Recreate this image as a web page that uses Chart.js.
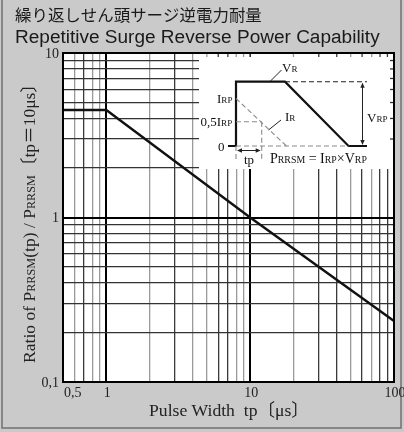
<!DOCTYPE html>
<html>
<head>
<meta charset="utf-8">
<script src="https://cdn.jsdelivr.net/npm/chart.js@4.4.1/dist/chart.umd.min.js"></script>
<style>
  html, body { margin: 0; padding: 0; background: #c9c9c9; }
  #wrap { width: 404px; height: 432px; position: relative; }
</style>
</head>
<body>
<div id="wrap"><canvas id="myChart"></canvas></div>
<script>
// data
const pulseWidth = [0.5, 1, 10, 100];
const powerRatio = [4.5, 4.5, 1, 0.235];

const xGridValues = [0.5, 0.6, 0.7, 0.8, 0.9, 1, 2, 3, 4, 5, 6, 7, 8, 9, 10,
                     20, 30, 40, 50, 60, 70, 80, 90, 100];
const yGridValues = [0.1, 0.2, 0.3, 0.4, 0.5, 0.6, 0.7, 0.8, 0.9, 1,
                     2, 3, 4, 5, 6, 7, 8, 9, 10];
const xTickValues = [0.5, 1, 10, 100];
const xTickLabels = ['0,5', '1', '10', '100'];
const yTickValues = [0.1, 1, 10];
const yTickLabels = ['0,1', '1', '10'];

const titleJa = '繰り返しせん頭サージ逆電力耐量';
const titleEn = 'Repetitive Surge Reverse Power Capability';

const SERIF = '"Liberation Serif", "Noto Sans CJK JP", serif';
const SANS = '"Liberation Sans", Arial, sans-serif';

// some minor verticals look darker in the scan
const darkVerticals = [0.7, 3, 6, 7, 30, 40, 60, 80, 90];
function vColor(v) {
  if (v === 1 || v === 10) return '#000';
  return darkVerticals.includes(v) ? '#3a3a3a' : '#9a9a9a';
}
function vWidth(v) { return (v === 1 || v === 10) ? 2 : 1.3; }
function hColor(v) { return v === 1 ? '#000' : '#333'; }
function hWidth(v) { return v === 1 ? 2 : 1.3; }

// text with small-caps style subscripts: parts = [[text, isSmall], ...]
function richWidth(ctx, parts, size) {
  let w = 0;
  parts.forEach(p => {
    ctx.font = (p[1] ? size * 0.7 : size) + 'px ' + SERIF;
    w += ctx.measureText(p[0]).width;
  });
  return w;
}
function rich(ctx, parts, x, y, size, align) {
  const w = richWidth(ctx, parts, size);
  let cx = align === 'center' ? x - w / 2 : (align === 'right' ? x - w : x);
  ctx.textAlign = 'left';
  ctx.textBaseline = 'alphabetic';
  parts.forEach(p => {
    ctx.font = (p[1] ? size * 0.7 : size) + 'px ' + SERIF;
    ctx.fillText(p[0], cx, y);
    cx += ctx.measureText(p[0]).width;
  });
  return w;
}
// size so that the whole run is about `target` px long
function fitSize(ctx, parts, target) {
  return 15 * target / richWidth(ctx, parts, 15);
}

function seg(ctx, x1, y1, x2, y2) {
  ctx.beginPath(); ctx.moveTo(x1, y1); ctx.lineTo(x2, y2); ctx.stroke();
}
function arrowHead(ctx, x, y, dx, dy) {
  const l = 5, w = 2.2;
  ctx.beginPath();
  ctx.moveTo(x, y);
  ctx.lineTo(x - dx * l - dy * w, y - dy * l + dx * w);
  ctx.lineTo(x - dx * l + dy * w, y - dy * l - dx * w);
  ctx.closePath(); ctx.fill();
}

const panelPlugin = {
  id: 'panel',
  beforeDraw(chart) {
    const c = chart.ctx, a = chart.chartArea;
    c.save();
    c.fillStyle = '#cacaca';
    c.fillRect(0, 0, chart.width, chart.height);
    c.strokeStyle = '#707070';
    c.lineWidth = 1.5;
    c.strokeRect(2, -2, 399, 430);
    c.fillStyle = '#fff';
    c.fillRect(a.left, a.top, a.right - a.left, a.bottom - a.top);
    c.restore();
  },
  beforeDatasetsDraw(chart) {
    const c = chart.ctx, a = chart.chartArea;
    const xs = chart.scales.x, ys = chart.scales.y;
    const boxLeft = 199, boxBottom = 169;
    c.save();
    c.fillStyle = '#fff';
    c.fillRect(boxLeft, a.top, a.right - boxLeft, boxBottom - a.top);
    // short ticks along the inset's top and right edges
    xGridValues.forEach(v => {
      const px = xs.getPixelForValue(v);
      if (px > boxLeft + 2 && px < a.right - 2) {
        c.strokeStyle = vColor(v); c.lineWidth = 1.3;
        seg(c, px, a.top, px, a.top + 4);
      }
    });
    yGridValues.forEach(v => {
      const py = ys.getPixelForValue(v);
      if (py > a.top + 2 && py < boxBottom - 2) {
        c.strokeStyle = '#333'; c.lineWidth = 1.3;
        seg(c, a.right - 4, py, a.right, py);
      }
    });

    // waveform sketch
    const yTop = 81.7, yZero = 146, xRise = 236, xFlat = 285, xFall = 348.5;
    c.strokeStyle = '#111'; c.lineWidth = 2.2; c.lineJoin = 'miter';
    c.beginPath();
    c.moveTo(228, yZero); c.lineTo(xRise, yZero); c.lineTo(xRise, yTop);
    c.lineTo(xFlat, yTop); c.lineTo(xFall, yZero); c.lineTo(367, yZero);
    c.stroke();

    c.lineWidth = 1.1;
    c.setLineDash([5, 3]);
    c.strokeStyle = '#222';
    seg(c, xFlat, yTop, 367, yTop);
    c.strokeStyle = '#8a8a8a';
    seg(c, xRise, 98.5, 286.5, yZero);            // i_R
    seg(c, xRise, 121.7, 261.7, 121.7);           // 0,5 I_RP
    seg(c, 261.7, 121.7, 261.7, 161);
    seg(c, xRise, yZero, xFall, yZero);
    seg(c, xRise, yZero, xRise, 161);
    c.setLineDash([]);

    // V_RP arrow
    c.strokeStyle = '#222'; c.fillStyle = '#222'; c.lineWidth = 1;
    seg(c, 362.5, yTop + 2, 362.5, yZero - 2);
    arrowHead(c, 362.5, yTop + 1, 0, -1);
    arrowHead(c, 362.5, yZero - 1, 0, 1);
    // tp arrow
    seg(c, xRise + 2, 150.5, 259.7, 150.5);
    arrowHead(c, xRise + 1, 150.5, -1, 0);
    arrowHead(c, 260.7, 150.5, 1, 0);
    // leaders
    seg(c, 270.5, 81, 281.5, 70);
    seg(c, 268.5, 130, 281, 120);

    c.fillStyle = '#111';
    rich(c, [['V', false], ['R', true]], 282, 72, 13, 'left');
    rich(c, [['V', false], ['RP', true]], 367, 121.5, 13, 'left');
    rich(c, [['I', false], ['RP', true]], 217, 102.5, 13, 'left');
    rich(c, [['0,5I', false], ['RP', true]], 200.5, 125.5, 13, 'left');
    rich(c, [['I', false], ['R', true]], 285, 121, 13, 'left');
    rich(c, [['0', false]], 218, 150.5, 13, 'left');
    rich(c, [['tp', false]], 249, 164, 13, 'center');
    const pParts = [['P', false], ['RRSM', true], [' = I', false], ['RP', true],
                    ['×V', false], ['RP', true]];
    rich(c, pParts, 270, 163, fitSize(c, pParts, 97), 'left');
    c.restore();
  },
  afterDraw(chart) {
    const c = chart.ctx, a = chart.chartArea;
    const xs = chart.scales.x, ys = chart.scales.y;
    c.save();
    // frame of the plot area
    c.strokeStyle = '#000'; c.lineWidth = 2;
    c.strokeRect(a.left, a.top, a.right - a.left, a.bottom - a.top);

    c.fillStyle = '#222';
    // tick labels
    c.font = '14px ' + SERIF;
    c.textBaseline = 'middle';
    c.textAlign = 'right';
    yTickValues.forEach((v, i) => {
      c.fillText(yTickLabels[i], a.left - 4, ys.getPixelForValue(v) + 1);
    });
    c.textBaseline = 'top';
    xTickValues.forEach((v, i) => {
      const px = xs.getPixelForValue(v);
      c.textAlign = i === 0 ? 'left' : 'center';
      c.fillText(xTickLabels[i], px + 1, a.bottom + 4);
    });

    // titles
    c.fillStyle = '#1a1a1a';
    c.textAlign = 'left';
    c.textBaseline = 'alphabetic';
    c.font = '16px "Noto Sans CJK JP", sans-serif';
    const wJa = c.measureText(titleJa).width;
    c.font = (16 * 247 / wJa).toFixed(2) + 'px "Noto Sans CJK JP", sans-serif';
    c.fillText(titleJa, 15, 21);
    c.font = '18px ' + SANS;
    const wEn = c.measureText(titleEn).width;
    c.font = (18 * 365 / wEn).toFixed(2) + 'px ' + SANS;
    c.fillText(titleEn, 15, 43);

    // axis titles
    c.fillStyle = '#222';
    const xParts = [['Pulse Width  tp〔', false], ['μ', false], ['s〕', false]];
    rich(c, xParts, 229, 416, fitSize(c, xParts, 160), 'center');

    c.translate(35, 219);
    c.rotate(-Math.PI / 2);
    const yParts = [['Ratio of P', false], ['RRSM', true], ['(tp) / P', false],
                    ['RRSM', true], ['〔tp＝10μs〕', false]];
    rich(c, yParts, 0, 0, fitSize(c, yParts, 288), 'center');
    c.restore();
  }
};

const ctx = document.getElementById('myChart');
new Chart(ctx, {
  type: 'line',
  data: {
    datasets: [{
      data: pulseWidth.map((x, i) => ({ x: x, y: powerRatio[i] })),
      borderColor: '#111',
      borderWidth: 2.4,
      pointRadius: 0,
      tension: 0,
      fill: false
    }]
  },
  options: {
    responsive: true,
    maintainAspectRatio: false,
    animation: false,
    layout: { padding: { left: 63, right: 10, top: 53, bottom: 50 } },
    plugins: { legend: { display: false }, tooltip: { enabled: false } },
    scales: {
      x: {
        type: 'logarithmic', min: 0.5, max: 100,
        afterBuildTicks: s => { s.ticks = xGridValues.map(v => ({ value: v })); },
        afterFit: s => { s.height = 0; },
        ticks: { display: false },
        border: { display: false },
        grid: {
          drawTicks: false,
          color: c => vColor(c.tick.value),
          lineWidth: c => vWidth(c.tick.value)
        }
      },
      y: {
        type: 'logarithmic', min: 0.1, max: 10,
        afterBuildTicks: s => { s.ticks = yGridValues.map(v => ({ value: v })); },
        afterFit: s => { s.width = 0; },
        ticks: { display: false },
        border: { display: false },
        grid: {
          drawTicks: false,
          color: c => hColor(c.tick.value),
          lineWidth: c => hWidth(c.tick.value)
        }
      }
    }
  },
  plugins: [panelPlugin]
});
</script>
</body>
</html>
